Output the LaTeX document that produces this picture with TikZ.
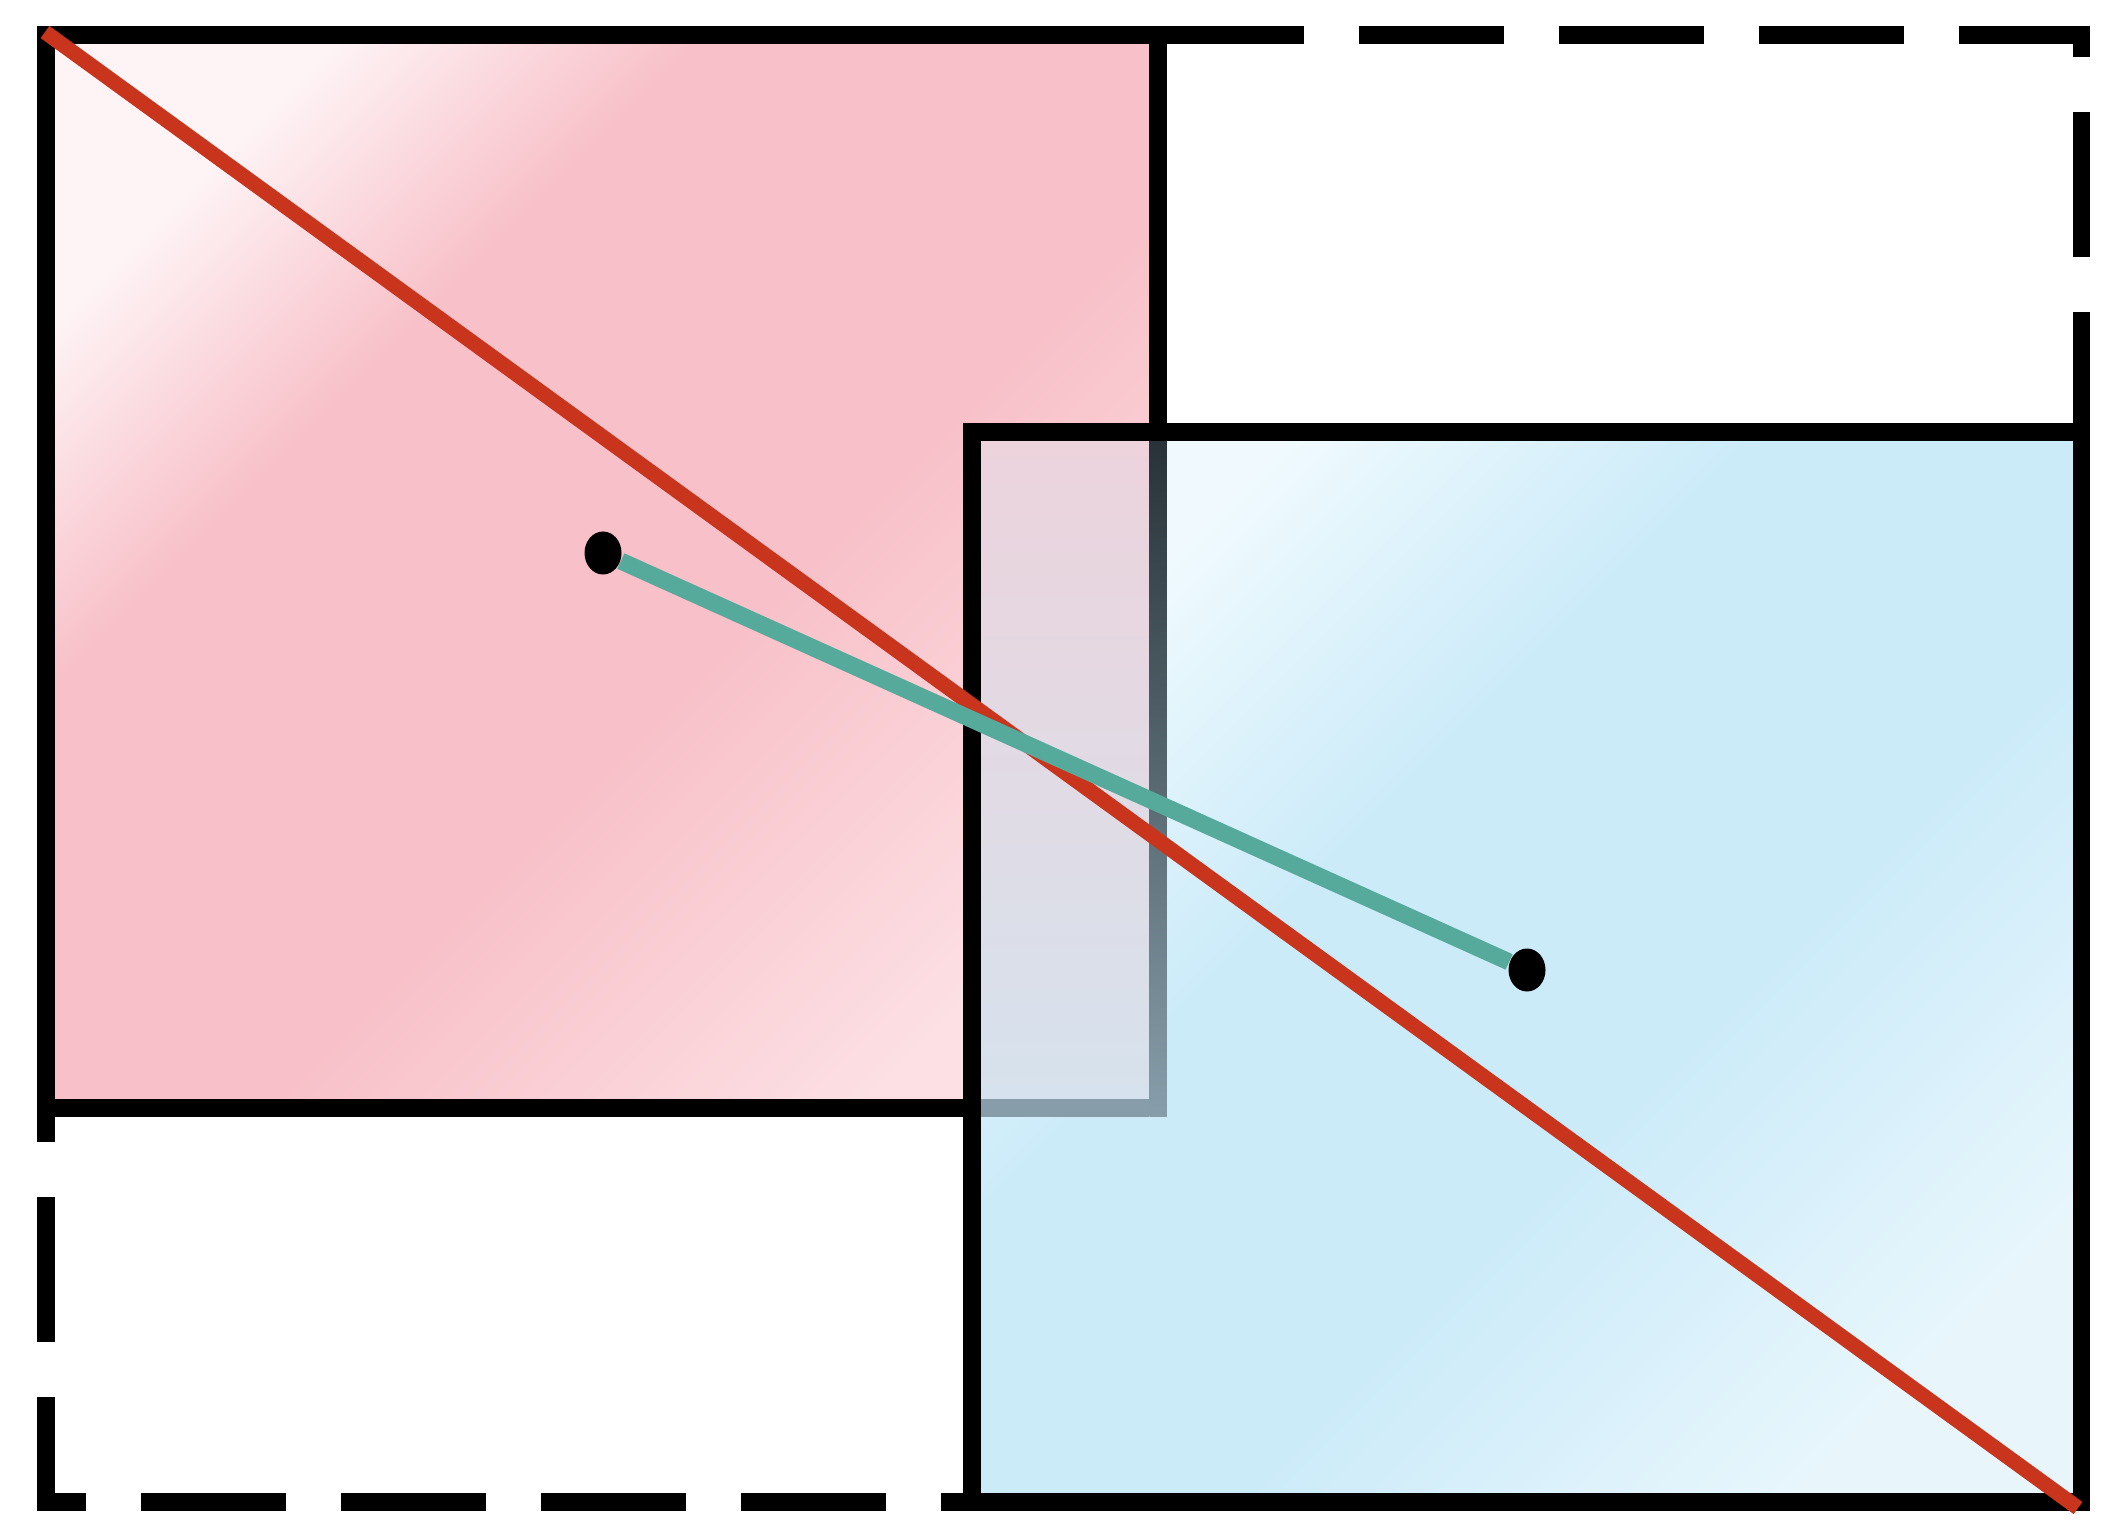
\documentclass[tikz,border=0pt]{standalone}
\usetikzlibrary{shapes.geometric}
\definecolor{redTop}{RGB}{254,244,246}
\definecolor{redMid}{RGB}{248,192,200}
\definecolor{redBot}{RGB}{252,224,228}
\definecolor{blueTop}{RGB}{240,250,254}
\definecolor{blueMid}{RGB}{204,235,249}
\definecolor{blueBot}{RGB}{232,246,252}
\definecolor{ovTop}{RGB}{236,211,220}
\definecolor{ovBot}{RGB}{214,226,237}
\definecolor{bordTop}{RGB}{40,50,56}
\definecolor{bordBot}{RGB}{135,158,170}
\definecolor{diagRed}{RGB}{200,52,28}
\definecolor{tealLine}{RGB}{85,170,155}
\pgfdeclarehorizontalshading{redshade}{100bp}{color(0bp)=(redTop); color(24bp)=(redTop); color(36bp)=(redMid); color(56bp)=(redMid); color(76bp)=(redBot); color(100bp)=(redBot)}
\pgfdeclarehorizontalshading{blueshade}{100bp}{color(0bp)=(blueTop); color(25bp)=(blueTop); color(40bp)=(blueMid); color(58bp)=(blueMid); color(76bp)=(blueBot); color(100bp)=(blueBot)}
\tikzset{
  boxline/.style={line width=0.175cm, black},
  outerdash/.style={line width=0.175cm, black, dash pattern=on 1.45cm off 0.55cm},
  dotnode/.style={ellipse, fill=black, inner sep=0pt, minimum width=0.37cm, minimum height=0.43cm},
  diagline/.style={line width=0.15cm, diagRed},
  linkline/.style={line width=0.17cm, tealLine}
}
\begin{document}
\begin{tikzpicture}
\useasboundingbox (0,0) rectangle (21.2,15.38);
\fill[white] (0,0) rectangle (21.2,15.38);
% corners
\coordinate (TL) at (0.46,15.03);
\coordinate (TR) at (20.815,15.03);
\coordinate (BR) at (20.815,0.36);
\coordinate (BL) at (0.46,0.36);
\coordinate (rTL) at (0.46,15.03);
\coordinate (rBR) at (11.58,4.30);
\coordinate (bTL) at (9.72,11.06);
\coordinate (bBR) at (20.815,0.36);
% dashed outer frame
\draw[outerdash, dash phase=0.87cm] (TL) -- (TR) -- (BR);
\draw[outerdash, dash phase=0.045cm] (BR) -- (BL) -- (TL);
% red box
\shade[shading=redshade, shading angle=-45] (rTL) rectangle (rBR);
\draw[boxline] (rTL) rectangle (rBR);
% blue box
\shade[shading=blueshade, shading angle=-45] (bTL) rectangle (bBR);
% overlap (blue seen over red)
\shade[top color=ovTop, bottom color=ovBot] (9.8075,4.3875) rectangle (11.4925,10.9725);
\shade[top color=bordTop, bottom color=bordBot] (11.4925,4.2125) rectangle (11.6675,10.9725);
\fill[bordBot] (9.8075,4.2125) rectangle (11.4925,4.3875);
\draw[boxline] (bTL) rectangle (bBR);
% diagonal
\coordinate (dA) at (0.45,15.06);
\coordinate (dB) at (20.78,0.30);
\draw[diagline] (dA) -- (dB);
% centres and link
\node[dotnode] (c1) at (6.03,9.85) {};
\node[dotnode] (c2) at (15.27,5.68) {};
\draw[linkline] (c1) -- (c2);
\end{tikzpicture}
\end{document}
